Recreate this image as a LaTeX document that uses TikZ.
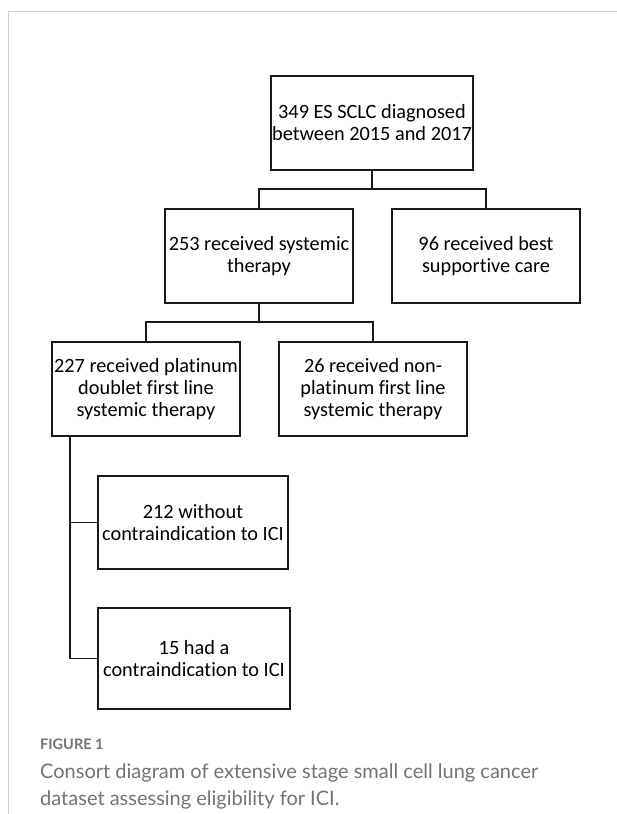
\documentclass[tikz,border=0pt]{standalone}
\usepackage{fontspec}
\setmainfont{Carlito}[Ligatures=NoCommon]
\newfontfamily\capfont{Lato}
\begin{document}
\begin{tikzpicture}[x=1pt,y=-1pt,
  box/.style={draw=black!90,line width=1.6pt,minimum width=188pt,minimum height=94pt,align=center,inner sep=0pt,
    font=\fontsize{20.3}{22}\selectfont},
  conn/.style={draw=black!90,line width=1.6pt},
  frame/.style={draw=black!18,line width=1pt}]
\useasboundingbox (0,0) rectangle (617,814);
\draw[frame] (617,11) -- (8,11) -- (8,814);
\node[box,minimum width=202pt] (top) at (372,123) {349 ES SCLC diagnosed\\between 2015 and 2017};
\node[box] (st) at (259,256) {253 received systemic\\therapy};
\node[box] (bsc) at (486,256) {96 received best\\supportive care};
\node[box] (plat) at (146,389) {227 received platinum\\doublet first line\\systemic therapy};
\node[box] (nonplat) at (373,389) {26 received non-\\platinum first line\\systemic therapy};
\node[box,minimum width=190pt,minimum height=93pt] (wo) at (193,522.5) {212 without\\contraindication to ICI};
\node[box,minimum width=192pt,minimum height=101pt] (ci) at (194,658.5) {15 had a\\contraindication to ICI};
\draw[conn] (top.south) -- (top.south |- 0,190);
\draw[conn] (st.north) -- ++(0,-19) -| (bsc.north);
\draw[conn] (st.south) -- (st.south |- 0,323);
\draw[conn] (plat.north) -- ++(0,-19) -| (nonplat.north);
\coordinate (spine) at ([xshift=19pt]plat.south west);
\draw[conn] (spine) |- (ci.west);
\draw[conn] (wo.west) -- (spine |- wo.west);
\node[anchor=base west,inner sep=0pt,text=black!55,font=\capfont\bfseries\fontsize{14.5}{16}\selectfont] (fig) at (40,749) {FIGURE 1};
\node[anchor=base west,inner sep=0pt,align=left,text=black!55,font=\capfont\fontsize{20}{27}\selectfont] (cap) at (40,805) {Consort diagram of extensive stage small cell lung cancer\\dataset assessing eligibility for ICI.};
\end{tikzpicture}
\end{document}
